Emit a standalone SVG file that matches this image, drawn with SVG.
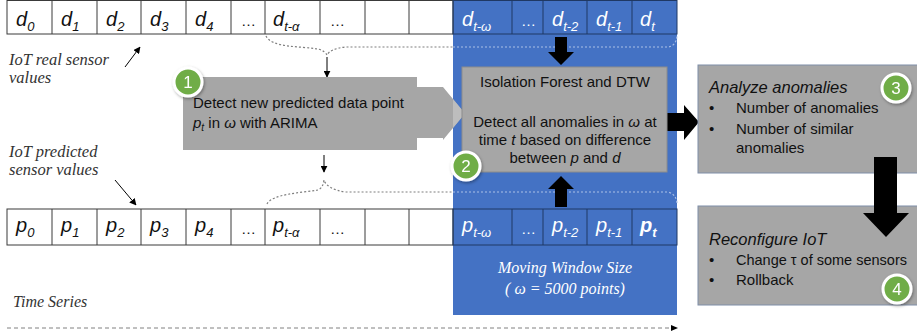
<svg xmlns="http://www.w3.org/2000/svg" width="917" height="336" viewBox="0 0 917 336">
<style>
.cell{fill:#fff;stroke:#3a3a3a;stroke-width:1}
.bcell{fill:none;stroke:#1f3864;stroke-width:1}
.lbl{font-family:"Liberation Sans",Arial,sans-serif;font-style:italic;font-size:20px;fill:#111}
.blbl{font-family:"Liberation Sans",Arial,sans-serif;font-style:italic;font-size:20px;fill:#fff}
.sub{font-size:13px}
.ser{font-family:"Liberation Serif","Times New Roman",serif;font-style:italic;font-size:16.5px;fill:#333}
.box{font-family:"Liberation Sans",Arial,sans-serif;font-size:15px;fill:#111}
.dot{fill:none;stroke:#7f7f7f;stroke-width:1.2;stroke-dasharray:2 2}
.dotb{fill:none;stroke:#a9bfe6;stroke-width:1.2;stroke-dasharray:2 2}
.badge{fill:#70ad47;stroke:#fff;stroke-width:3}
.bnum{font-family:"Liberation Sans",Arial,sans-serif;font-size:17px;fill:#fff;text-anchor:middle}
.gbox{fill:#a6a6a6;stroke:#7f8ea8;stroke-width:1}
</style>
<defs>
<marker id="ah" viewBox="0 0 10 10" refX="9" refY="5" markerWidth="7" markerHeight="7" orient="auto-start-reverse" markerUnits="userSpaceOnUse">
<path d="M0,0 L10,5 L0,10 Z" fill="#000"/>
</marker>
<filter id="sh" x="-50%" y="-50%" width="200%" height="200%">
<feDropShadow dx="1" dy="1.5" stdDeviation="1.5" flood-color="#000" flood-opacity="0.35"/>
</filter>
<clipPath id="blueclip"><rect x="453" y="0" width="224" height="315"/></clipPath>
</defs>

<!-- moving window background -->
<rect id="window" x="453" y="0" width="224" height="315" fill="#4472c4"/>

<!-- top row: real sensor values -->
<g id="real-row">
<rect class="cell" x="7" y="0.5" width="446" height="33.5"/>
<path d="M52,0V34M97,0V34M141,0V34M186,0V34M231,0V34M265,0V34M320,0V34M365,0V34M409,0V34" stroke="#3a3a3a" stroke-width="1"/>
<rect class="bcell" x="453" y="0.5" width="224" height="33.5"/>
<path d="M512,0V34M543,0V34M587,0V34M632,0V34" stroke="#1f3864" stroke-width="1"/>
<text class="lbl" x="16" y="26">d<tspan class="sub" dy="5">0</tspan></text>
<text class="lbl" x="61" y="26">d<tspan class="sub" dy="5">1</tspan></text>
<text class="lbl" x="106" y="26">d<tspan class="sub" dy="5">2</tspan></text>
<text class="lbl" x="150" y="26">d<tspan class="sub" dy="5">3</tspan></text>
<text class="lbl" x="195" y="26">d<tspan class="sub" dy="5">4</tspan></text>
<text class="lbl" x="241" y="26" style="font-style:normal;font-size:15px">…</text>
<text class="lbl" x="273" y="26">d<tspan class="sub" dy="5">t-α</tspan></text>
<text class="lbl" x="330" y="26" style="font-style:normal;font-size:15px">…</text>
<text class="blbl" x="462" y="26">d<tspan class="sub" dy="5">t-ω</tspan></text>
<text class="blbl" x="521" y="26" style="font-style:normal;font-size:15px">…</text>
<text class="blbl" x="552" y="26">d<tspan class="sub" dy="5">t-2</tspan></text>
<text class="blbl" x="596" y="26">d<tspan class="sub" dy="5">t-1</tspan></text>
<text class="blbl" x="640" y="26">d<tspan class="sub" dy="5">t</tspan></text>
</g>

<!-- bottom row: predicted values -->
<g id="pred-row">
<rect class="cell" x="7" y="209" width="446" height="36"/>
<path d="M52,209V245M97,209V245M141,209V245M186,209V245M231,209V245M265,209V245M320,209V245M365,209V245M409,209V245" stroke="#3a3a3a" stroke-width="1"/>
<rect class="bcell" x="453" y="209" width="224" height="36"/>
<path d="M512,209V245M543,209V245M587,209V245M632,209V245" stroke="#1f3864" stroke-width="1"/>
<text class="lbl" x="16" y="232">p<tspan class="sub" dy="5">0</tspan></text>
<text class="lbl" x="61" y="232">p<tspan class="sub" dy="5">1</tspan></text>
<text class="lbl" x="106" y="232">p<tspan class="sub" dy="5">2</tspan></text>
<text class="lbl" x="150" y="232">p<tspan class="sub" dy="5">3</tspan></text>
<text class="lbl" x="195" y="232">p<tspan class="sub" dy="5">4</tspan></text>
<text class="lbl" x="241" y="234" style="font-style:normal;font-size:15px">…</text>
<text class="lbl" x="273" y="232">p<tspan class="sub" dy="5">t-α</tspan></text>
<text class="lbl" x="330" y="234" style="font-style:normal;font-size:15px">…</text>
<text class="blbl" x="462" y="232">p<tspan class="sub" dy="5">t-ω</tspan></text>
<text class="blbl" x="521" y="234" style="font-style:normal;font-size:15px">…</text>
<text class="blbl" x="552" y="232">p<tspan class="sub" dy="5">t-2</tspan></text>
<text class="blbl" x="596" y="232">p<tspan class="sub" dy="5">t-1</tspan></text>
<text class="blbl" x="640" y="232" font-weight="bold">p<tspan class="sub" dy="5">t</tspan></text>
</g>

<!-- labels -->
<g id="labels">
<text class="ser" x="9" y="65">IoT real sensor</text>
<text class="ser" x="9" y="83">values</text>
<text class="ser" x="9" y="157">IoT predicted</text>
<text class="ser" x="9" y="175">sensor values</text>
<text class="ser" x="13" y="307" style="font-size:16px">Time Series</text>
<text class="ser" x="565" y="273" text-anchor="middle" style="fill:#fff;font-size:16px">Moving Window Size</text>
<text class="ser" x="565" y="294" text-anchor="middle" style="fill:#fff;font-size:16px">( ω = 5000 points)</text>
</g>

<!-- connectors -->
<g id="connectors">
<path class="dot" d="M266,36 C272,48 300,46 318,49 Q325,51 327,55 Q330,49 345,47 H453"/>
<path class="dotb" d="M453,47 H668 Q676,46 677,36"/>
<path class="dot" d="M267,204 C272,194 300,193 318,190 Q323,188 324,180 Q327,189 345,192 H453"/>
<path class="dotb" d="M453,192 H668 Q676,194 677,203"/>
<line x1="327" y1="57" x2="327" y2="77" stroke="#000" stroke-width="1" marker-end="url(#ah)"/>
<line x1="324" y1="155" x2="324" y2="172" stroke="#000" stroke-width="1" marker-end="url(#ah)"/>
<line x1="125" y1="67" x2="140" y2="47" stroke="#000" stroke-width="1" marker-end="url(#ah)"/>
<line x1="115" y1="180" x2="136" y2="205" stroke="#000" stroke-width="1" marker-end="url(#ah)"/>
<line x1="7" y1="328" x2="672" y2="328" stroke="#808080" stroke-width="1" stroke-dasharray="4 3"/>
<path d="M671,325 L678,328 L671,331 Z" fill="#000"/>
<!-- block arrows -->
<path d="M555,37 H567 V52 H574 L561,65 L548,52 H555 Z" fill="#000"/>
<path d="M555,207 H567 V189 H574 L561,176 L548,189 H555 Z" fill="#000"/>
<path d="M667,113 H684 V105 L699,122 L684,140 V131 H667 Z" fill="#000"/>
</g>

<!-- node 1: ARIMA prediction (arrow callout) -->
<g id="node1">
<path d="M183,77 H417 V87 H443 L465,113.5 L443,140 V138 H417 V150 H183 Z" fill="#a6a6a6"/>
<path d="M183,77 H417 V87 H443 L465,113.5 L443,140 V138 H417 V150 H183 Z" fill="#bdbdbd" clip-path="url(#blueclip)"/>
<text class="box" x="193" y="108">Detect new predicted data point</text>
<text class="box" x="193" y="128"><tspan font-style="italic">p</tspan><tspan font-style="italic" font-size="10" dy="3">t</tspan><tspan dy="-3"> in </tspan><tspan font-style="italic">ω</tspan> with ARIMA</text>
</g>

<!-- node 2: Isolation Forest and DTW -->
<g id="node2">
<rect x="462" y="67" width="205" height="105" fill="#a6a6a6" stroke="#8c8c8c" stroke-width="1"/>
<text class="box" x="565" y="87" text-anchor="middle">Isolation Forest and DTW</text>
<text class="box" x="565" y="127" text-anchor="middle">Detect all anomalies in <tspan font-style="italic">ω</tspan> at</text>
<text class="box" x="565" y="145" text-anchor="middle">time <tspan font-style="italic">t</tspan> based on difference</text>
<text class="box" x="565" y="163" text-anchor="middle">between <tspan font-style="italic">p</tspan> and <tspan font-style="italic">d</tspan></text>
</g>

<!-- node 3: Analyze anomalies -->
<g id="node3">
<rect class="gbox" x="698" y="65" width="230" height="108"/>
<text class="box" x="709" y="93" style="font-style:italic;font-size:16.5px">Analyze anomalies</text>
<text class="box" x="709" y="113">•</text>
<text class="box" x="736" y="113">Number of anomalies</text>
<text class="box" x="709" y="134">•</text>
<text class="box" x="736" y="134">Number of similar</text>
<text class="box" x="736" y="153">anomalies</text>
</g>

<!-- node 4: Reconfigure IoT -->
<g id="node4">
<rect class="gbox" x="698" y="206" width="230" height="99"/>
<text class="box" x="709" y="245" style="font-style:italic;font-size:16.5px">Reconfigure IoT</text>
<text class="box" x="709" y="265">•</text>
<text class="box" x="736" y="265" style="font-size:14.5px">Change τ of some sensors</text>
<text class="box" x="709" y="285">•</text>
<text class="box" x="736" y="285">Rollback</text>
</g>

<!-- big down arrow node3 -> node4 -->
<g id="arrow34">
<path d="M874,157 H897 V213 H909 L886,237 L863,213 H874 Z" fill="#000"/>
</g>

<!-- badges -->
<g id="badge1" filter="url(#sh)"><circle class="badge" cx="188" cy="82" r="14"/><text class="bnum" x="188" y="88">1</text></g>
<g id="badge2" filter="url(#sh)"><circle class="badge" cx="466" cy="166" r="14"/><text class="bnum" x="466" y="172">2</text></g>
<g id="badge3" filter="url(#sh)"><circle class="badge" cx="896" cy="88" r="14"/><text class="bnum" x="896" y="94">3</text></g>
<g id="badge4" filter="url(#sh)"><circle class="badge" cx="897" cy="289" r="14"/><text class="bnum" x="897" y="295">4</text></g>
</svg>
